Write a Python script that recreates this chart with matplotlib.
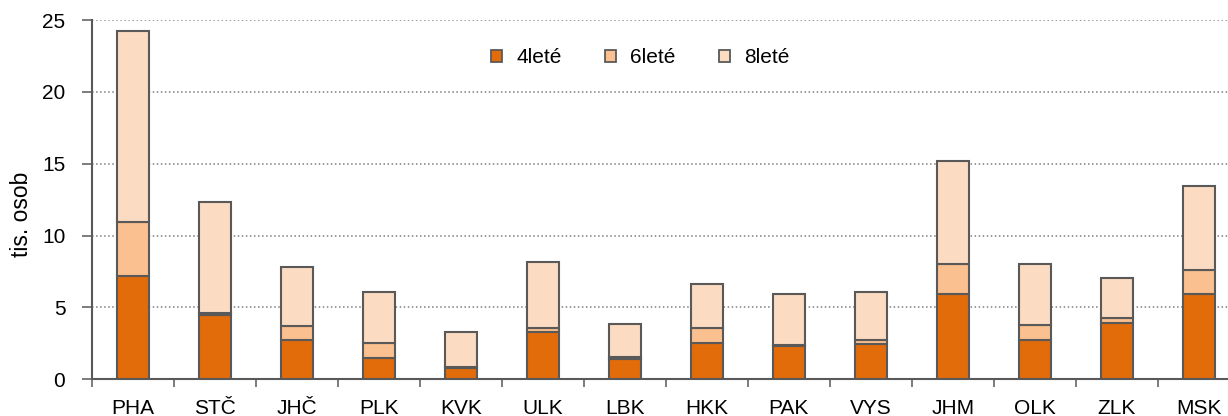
import numpy as np
import matplotlib.pyplot as plt
from matplotlib.patches import Patch

plt.rcParams['font.family'] = ['Liberation Sans', 'DejaVu Sans']

# kraje
kraje = ['PHA', 'STČ', 'JHČ', 'PLK', 'KVK', 'ULK', 'LBK', 'HKK', 'PAK', 'VYS',
         'JHM', 'OLK', 'ZLK', 'MSK']

# tis. osob podle typu gymnázia
leta4 = [7.20, 4.45, 2.74, 1.50, 0.80, 3.30, 1.38, 2.50, 2.32, 2.48, 5.94, 2.76, 3.90, 5.94]
leta6 = [3.73, 0.15, 1.00, 1.00, 0.08, 0.30, 0.17, 1.10, 0.05, 0.26, 2.07, 1.00, 0.39, 1.67]
leta8 = [13.28, 7.73, 4.04, 3.57, 2.44, 4.55, 2.33, 3.04, 3.57, 3.34, 7.19, 4.27, 2.79, 5.81]

nazvy = ['4leté', '6leté', '8leté']
barvy = ['#E36C0A', '#FAC08F', '#FBDBC1']
okraj = '#595959'

fig = plt.figure(figsize=(12.28, 4.16), dpi=100)
ax = fig.add_axes([0.0747, 0.0882, 0.935, 0.8637])

x = np.arange(len(kraje))
spodek = np.zeros(len(kraje))
for hodnoty, barva in zip([leta4, leta6, leta8], barvy):
    ax.bar(x, hodnoty, width=0.39, bottom=spodek, color=barva,
           edgecolor=okraj, linewidth=1.5, zorder=3)
    spodek += np.array(hodnoty)

ax.set_xlim(-0.5, len(kraje) - 0.5)
ax.set_ylim(0, 25)
ax.set_yticks([0, 5, 10, 15, 20, 25])
ax.set_xticks(x)
ax.set_xticklabels(kraje)
ax.set_xticks(np.arange(-0.5, len(kraje), 1), minor=True)
ax.tick_params(axis='x', which='major', length=0, labelsize=15, pad=14)
ax.tick_params(axis='x', which='minor', length=6, width=1.1, color=okraj)
ax.tick_params(axis='y', length=7, width=1.1, color=okraj, labelsize=15, pad=12)

ax.yaxis.grid(True, linestyle=':', color='#7F7F7F', linewidth=1.1, zorder=0)
ax.set_axisbelow(True)

for s in ['top', 'right']:
    ax.spines[s].set_visible(False)
for s in ['left', 'bottom']:
    ax.spines[s].set_color(okraj)
    ax.spines[s].set_linewidth(1.5)
ax.spines['bottom'].set_zorder(4)

ax.set_ylabel('tis. osob', fontsize=16.5)
ax.yaxis.set_label_coords(-0.051, 0.46)

uchyty = [Patch(facecolor=b, edgecolor=okraj, linewidth=1.3) for b in barvy]
ax.legend(uchyty, nazvy, loc='center', bbox_to_anchor=(0.478, 0.895), ncol=3,
          frameon=False, fontsize=15, handlelength=0.5, handleheight=0.5,
          handletextpad=0.7, columnspacing=2.1)

fig.savefig('out.png', dpi=100)
